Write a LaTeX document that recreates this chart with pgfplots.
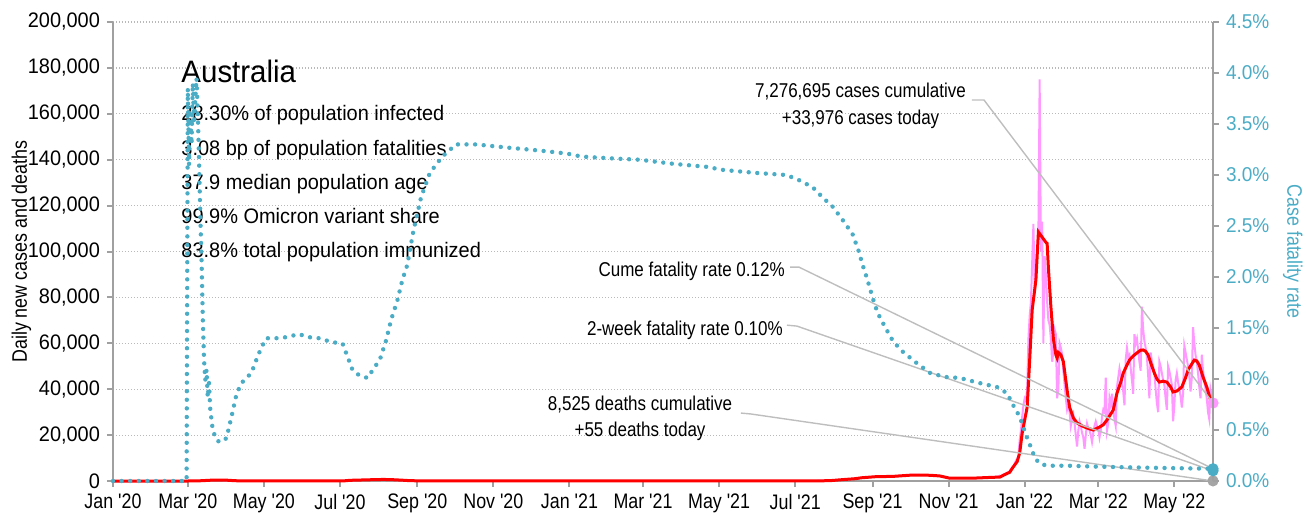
\documentclass[border=0pt]{standalone}
\usepackage{fontspec}
\setmainfont{Liberation Sans}[FakeStretch=0.95, Ligatures=TeXOff]
\newfontfamily\cond{Liberation Sans}[FakeStretch=0.85, Ligatures=TeXOff]
\usepackage{pgfplots}
\pgfplotsset{compat=1.18}
\usetikzlibrary{calc}
\definecolor{cfrblue}{RGB}{75,172,198}
\definecolor{pinkc}{RGB}{255,153,255}
\definecolor{axgray}{RGB}{160,160,160}
\definecolor{gridgray}{RGB}{185,185,185}
\definecolor{leadgray}{RGB}{190,190,190}
\definecolor{dgray}{RGB}{165,165,165}

\begin{document}
\begin{tikzpicture}
\pgfplotsset{
  base/.style={
    scale only axis, width=550pt, height=229.5pt,
    xmin=0, xmax=882, clip=false,
    /pgf/number format/assume math mode=true,
    /pgf/number format/fixed,
    /pgf/number format/1000 sep={,},
    axis line style={axgray, line width=1pt},
    tick style={axgray, line width=1pt},
    tick align=outside,
    major tick length=3pt,
  }
}
\begin{axis}[base,
  axis x line*=bottom, axis y line*=left,
  ymin=0, ymax=200000,
  ytick={0,20000,40000,60000,80000,100000,120000,140000,160000,180000,200000},
  scaled y ticks=false,
  yticklabel style={font=\fontsize{10.5}{12}\selectfont, black},
  ymajorgrids,
  major grid style={gridgray, dash pattern=on 0.5pt off 1pt, line width=0.6pt},
  xtick={0,60,121,182,244,305,366,425,486,547,609,670,731,790,851},
  xticklabels={Jan '20,Mar '20,May '20,Jul '20,Sep '20,Nov '20,Jan '21,Mar '21,May '21,Jul '21,Sep '21,Nov '21,Jan '22,Mar '22,May '22},
  xticklabel style={font=\fontsize{10.5}{12}\cond, black},
  ylabel={Daily new cases and deaths},
  ylabel style={font=\fontsize{10.5}{12}\cond, black, at={(axis description cs:-0.0782,0.5)}, anchor=base},
]
\coordinate (BL) at (rel axis cs:0,0);
\coordinate (TR) at (rel axis cs:1,1);

% daily new cases
\addplot[pinkc, line width=1pt] coordinates {
(0,0) (58,0) (65,20) (70,100) (75,250) (80,400) (85,380) (90,300) (95,150) (100,60) (110,20) (120,10)
(175,10) (185,100) (190,300) (200,450) (210,600) (217,700) (225,500) (235,250) (245,40) (260,10)
(550,10) (570,150) (585,600) (595,1000) (600,1400) (612,1900) (625,2000) (641,2700) (655,2500) (663,2200) (671,1200) (690,1250) (699,1400)
(700,1400) (701,1500) (702,1350) (703,1600) (704,1750) (705,1500) (706,1450) (707,1700) (708,1900) (709,1800)
(710,2100) (711,2300) (712,2000) (713,2500) (714,2900) (715,3100) (716,3300) (717,3600) (718,3900) (719,4300)
(720,5000) (721,5800) (722,6400) (723,7600) (724,8900) (725,9600) (726,11000) (727,18000) (728,22000) (729,28000)
(730,33000) (731,36000) (732,35000) (733,40000) (734,62000) (735,72000) (736,78000) (737,95000) (738,112000) (739,84000)
(740,93000) (741,100000) (742,108000) (743,175000) (744,100000) (745,113000) (746,60000) (747,98000) (748,90000) (749,78000)
(750,70000) (751,68000) (752,62000) (753,52000) (754,56000) (755,66000) (756,64000) (757,36000) (758,40000) (759,60000)
(760,58000) (761,55000) (762,48000) (763,42000) (764,36000) (765,31000) (766,33000) (767,30000) (768,24000) (769,27000)
(770,29000) (771,25000) (772,20000) (773,15000) (774,22000) (775,26000) (776,24000) (777,21000) (778,19000) (779,14000)
(780,20000) (781,25000) (782,23000) (783,22000) (784,20000) (785,17000) (786,21000) (787,24000) (788,26000) (789,24000)
(790,23000) (791,19000) (792,22000) (793,28000) (794,31000) (795,30000) (796,45000) (797,22000) (798,25000) (799,36000)
(800,33000) (801,38000) (802,31000) (803,27000) (804,24000) (805,41000) (806,45000) (807,49000) (808,46000) (809,43000)
(810,39000) (811,33000) (812,53000) (813,58000) (814,54000) (815,55000) (816,49000) (817,44000) (818,38000) (819,64000)
(820,60000) (821,62000) (822,57000) (823,52000) (824,48000) (825,76000) (826,66000) (827,61000) (828,58000) (829,54000)
(830,46000) (831,36000) (832,56000) (833,52000) (834,50000) (835,47000) (836,40000) (837,34000) (838,30000) (839,52000)
(840,50000) (841,47000) (842,44000) (843,42000) (844,36000) (845,31000) (846,50000) (847,48000) (848,45000) (849,42000)
(850,26000) (851,33000) (852,44000) (853,47000) (854,43000) (855,40000) (856,37000) (857,32000) (858,38000) (859,59000)
(860,56000) (861,53000) (862,50000) (863,46000) (864,39000) (865,45000) (866,67000) (867,60000) (868,55000) (869,52000)
(870,47000) (871,41000) (872,36000) (873,55000) (874,48000) (875,44000) (876,40000) (877,36000) (878,30000) (879,27000)
(880,40000) (881,37000) (882,33976)
};

% 7-day average of cases
\addplot[red, line width=1.5pt] coordinates {
(0,0) (60,0) (68,60) (72,150) (76,280) (80,380) (86,420) (92,330) (97,150) (102,50) (115,10)
(180,10) (186,100) (190,300) (200,450) (210,600) (217,680) (225,550) (232,350) (238,150) (250,20)
(560,20) (575,150) (585,600) (595,1000) (600,1400) (612,1900) (625,2000) (641,2600) (655,2500) (663,2200) (671,1200)
(690,1250) (705,1600) (711,1700) (715,2800) (719,3800) (721,5500) (723,7000) (725,8500) (727,12200) (729,20900)
(731,26600) (733,32200) (735,52700) (737,74500) (740,87600) (742,108500) (744,107000) (748,104000) (749,103500)
(750,93000) (752,76000) (754,62000) (756,55000) (757,53600) (758,56000) (760,55000) (762,52000) (765,39600)
(767,32200) (770,27500) (773,25300) (777,24000) (781,23100) (786,22200) (791,23500) (794,24500) (797,26600)
(802,30900) (805,38300) (808,43000) (810,47000) (813,50500) (815,52700) (818,54500) (821,55800) (824,57000)
(826,57100) (828,56500) (830,54900) (833,50000) (835,47000) (837,44500) (839,43100) (842,43500) (845,43100)
(848,41000) (850,38800) (853,39200) (857,41000) (860,45000) (862,48400) (865,51000) (867,52700) (869,52300)
(871,50500) (874,45300) (877,41000) (880,35300) (882,33500)
};

% leader lines
\draw[leadgray, line width=0.7pt] (axis cs:688.7,166000) -- (axis cs:698.4,166000) -- (axis cs:882,33976);
\draw[leadgray, line width=0.7pt] (axis cs:542.9,93200) -- (axis cs:550,93200) -- (axis cs:882,5333);
\draw[leadgray, line width=0.7pt] (axis cs:540.4,67900) -- (axis cs:548.4,67500) -- (axis cs:882,4444);
\draw[leadgray, line width=0.7pt] (axis cs:503.5,29600) -- (axis cs:511.5,29200) -- (axis cs:882,0);

% end markers
\addplot[only marks, mark=*, mark size=2.6pt, dgray] coordinates {(882,55)};
\addplot[only marks, mark=*, mark size=2.6pt, pinkc] coordinates {(882,33976)};

% text
\begin{scope}[every node/.style={inner sep=0pt}]
\node[anchor=base west, font=\fontsize{15.5}{18}\selectfont] at (axis cs:54.6,173800) {Australia};
\node[anchor=base west, font=\fontsize{10.5}{12}\selectfont] at (axis cs:54.6,156900) {28.30\% of population infected};
\node[anchor=base west, font=\fontsize{10.5}{12}\selectfont] at (axis cs:54.6,142000) {3.08 bp of population fatalities};
\node[anchor=base west, font=\fontsize{10.5}{12}\selectfont] at (axis cs:54.6,127200) {37.9 median population age};
\node[anchor=base west, font=\fontsize{10.5}{12}\selectfont] at (axis cs:54.6,112400) {99.9\% Omicron variant share};
\node[anchor=base west, font=\fontsize{10.5}{12}\selectfont] at (axis cs:54.6,97200) {83.8\% total population immunized};

\node[anchor=base, font=\fontsize{10}{12}\cond] at (axis cs:599.4,167300) {7,276,695 cases cumulative};
\node[anchor=base, font=\fontsize{10}{12}\cond] at (axis cs:599.4,155500) {+33,976 cases today};
\node[anchor=base east, font=\fontsize{10}{12}\cond] at (axis cs:538.9,88900) {Cume fatality rate 0.12\%};
\node[anchor=base east, font=\fontsize{10}{12}\cond] at (axis cs:537.3,63600) {2-week fatality rate 0.10\%};
\node[anchor=base, font=\fontsize{10}{12}\cond] at (axis cs:422.6,30900) {8,525 deaths cumulative};
\node[anchor=base, font=\fontsize{10}{12}\cond] at (axis cs:422.6,19200) {+55 deaths today};
\end{scope}
\end{axis}

\begin{axis}[base,
  axis x line=none, axis y line*=right,
  ymin=0, ymax=4.5,
  ytick={0,0.5,1,1.5,2,2.5,3,3.5,4,4.5},
  yticklabel={\pgfmathprintnumber[fixed,fixed zerofill,precision=1]{\tick}\%},
  yticklabel style={font=\fontsize{10}{12}\selectfont, cfrblue},
  ylabel={Case fatality rate},
  ylabel style={font=\fontsize{10.5}{12}\cond, cfrblue, rotate=180},
]
\addplot[cfrblue, line width=2.2pt, line cap=round, dash pattern=on 0pt off 4.3pt] coordinates {
(0,0) (59,0) (60,3.85) (61,3.1) (62,3.6) (63,3.3) (64,3.9) (65,3.5) (66,3.75) (67,3.95) (68,3.6) (69,3.15)
(70,2.6) (71,2.17) (72,1.6) (73,1.19) (74,0.99) (75,1.09) (76,0.82) (77,0.96) (78,0.70) (80,0.50) (83,0.40)
(86,0.38) (91,0.42) (95,0.63) (99,0.85) (103,0.96) (111,1.06) (115,1.19) (119,1.31) (123,1.40) (131,1.40)
(139,1.41) (149,1.44) (157,1.41) (165,1.40) (176,1.36) (184,1.35) (188,1.22) (192,1.09) (197,1.04) (204,1.01)
(210,1.12) (214,1.19) (219,1.38) (223,1.58) (228,1.77) (232,1.97) (236,2.12) (241,2.46) (247,2.78) (254,3.02)
(264,3.18) (275,3.30) (291,3.30) (315,3.27) (342,3.24) (364,3.21) (376,3.18) (404,3.16) (422,3.15) (449,3.11)
(476,3.08) (489,3.05) (516,3.02) (540,3.00) (550,2.95) (561,2.88) (569,2.78) (577,2.69) (585,2.56) (593,2.42)
(598,2.25) (601,2.12) (605,1.97) (609,1.80) (613,1.65) (619,1.51) (625,1.38) (632,1.28) (644,1.16) (655,1.06)
(667,1.02) (679,1.01) (695,0.96) (709,0.92) (717,0.86) (721,0.76) (727,0.63) (733,0.42) (737,0.30) (739,0.23)
(743,0.17) (749,0.15) (765,0.15) (791,0.14) (831,0.13) (882,0.12)
};
\addplot[only marks, mark=*, mark size=2.6pt, cfrblue] coordinates {(882,0.12) (882,0.10)};
\end{axis}
\pgfresetboundingbox
\path ($(BL)+(-56.5pt,-19.5pt)$) rectangle ($(TR)+(46.5pt,11pt)$);
\end{tikzpicture}
\end{document}
